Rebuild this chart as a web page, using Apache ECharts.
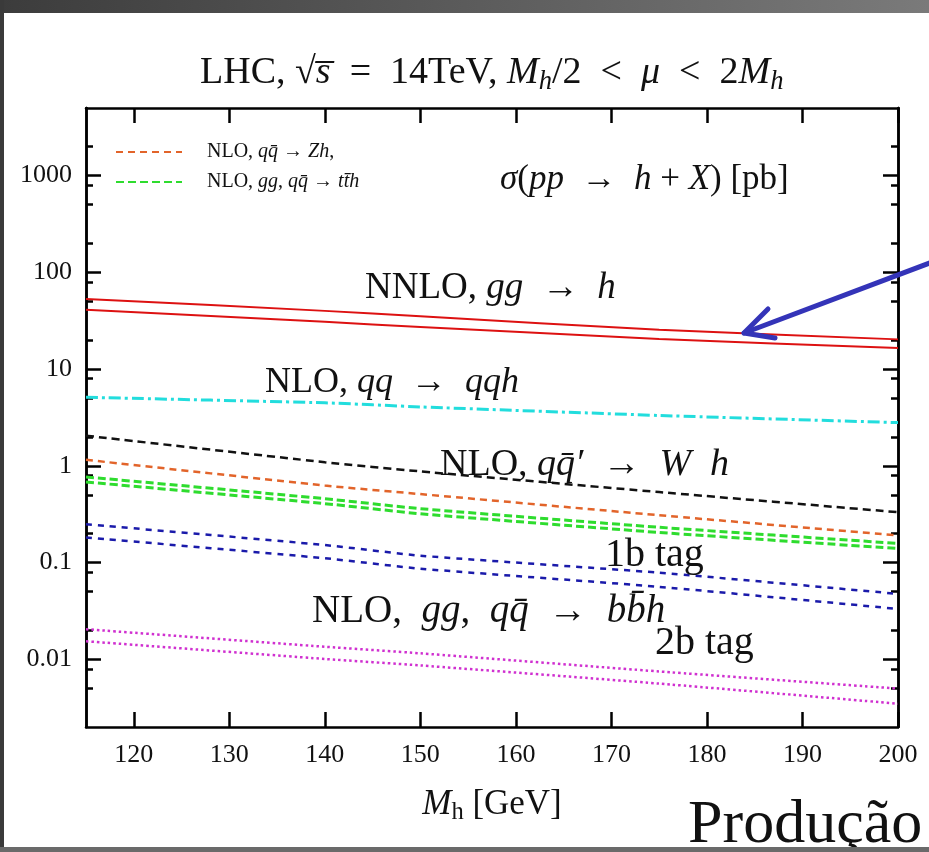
<!DOCTYPE html>
<html>
<head>
<meta charset="utf-8">
<style>
  html, body { margin: 0; padding: 0; background: #fff; }
  #main { width: 929px; height: 852px; }
</style>
<script src="https://cdn.jsdelivr.net/npm/echarts/dist/echarts.min.js"></script>
</head>
<body>
<div id="main"></div>
<script>
// Higgs production cross sections at the LHC (sigma in pb vs M_h)
let mh = [115, 140, 150, 175, 200];
let ggH_hi = [53.2, 40.0, 35.1, 25.5, 20.3];
let ggH_lo = [41.0, 30.8, 27.3, 20.5, 16.5];
let qqH = [5.11, 4.48, 4.07, 3.32, 2.80];
let wH = [2.05, 1.09, 0.877, 0.536, 0.332];
let zH = [1.155, 0.626, 0.511, 0.309, 0.191];
let ttH_hi = [0.768, 0.458, 0.361, 0.232, 0.158];
let ttH_lo = [0.681, 0.407, 0.320, 0.205, 0.140];
let bbH1_hi = [0.249, 0.152, 0.118, 0.0787, 0.0475];
let bbH1_lo = [0.182, 0.111, 0.0866, 0.0562, 0.0332];
let bbH2_hi = [0.0205, 0.0135, 0.01155, 0.0075, 0.00499];
let bbH2_lo = [0.0154, 0.0101, 0.00866, 0.00562, 0.00348];

let xTicks = [120, 130, 140, 150, 160, 170, 180, 190, 200];
let yTicks = [0.01, 0.1, 1, 10, 100, 1000];
let yMinorTicks = [0.005, 0.008, 0.02, 0.05, 0.08, 0.2, 0.5, 0.8, 2, 5, 8, 20, 50, 80, 200, 500, 800, 2000];

let nameZh = 'NLO, qq̄ → Zh,';
let nameTth = 'NLO, gg, qq̄ → tt̄h';

var serif = 'Liberation Serif';
var sp = '\u2002';
function bigRich(size) {
  return {
    r: { fontFamily: serif, fontSize: size, fontWeight: 'normal', color: '#111' },
    i: { fontFamily: serif, fontSize: size, fontWeight: 'normal', fontStyle: 'italic', color: '#111' },
    s: { fontFamily: serif, fontSize: size * 0.7, fontWeight: 'normal', fontStyle: 'italic', color: '#111', padding: [size * 0.45, 0, 0, 0] },
    u: { fontFamily: serif, fontSize: size * 0.7, fontWeight: 'normal', color: '#111', padding: [size * 0.45, 0, 0, 0] }
  };
}

function pairs(ys) {
  return mh.map(function (x, k) { return [x, ys[k]]; });
}

function line(name, ys, color, width, dash) {
  return {
    name: name,
    type: 'line',
    data: pairs(ys),
    symbol: 'none',
    smooth: 0.2,
    lineStyle: { color: color, width: width, type: dash },
    itemStyle: { color: color },
    z: 3
  };
}

function yLog(pos, ticks, len, labels) {
  return {
    type: 'log',
    position: pos,
    min: 0.002,
    max: 5000,
    axisLine: { show: true, onZero: false, lineStyle: { color: '#000', width: 2.5 } },
    axisTick: { show: true, inside: true, length: len, customValues: ticks, lineStyle: { color: '#000', width: 2.5 } },
    axisLabel: {
      show: labels,
      customValues: yTicks,
      margin: 14,
      fontFamily: serif,
      fontSize: 26,
      color: '#111',
      formatter: function (v) { return String(+(+v).toPrecision(3)); }
    },
    splitLine: { show: false },
    minorTick: { show: false }
  };
}

function xLin(pos, labels) {
  return {
    type: 'value',
    position: pos,
    min: 115,
    max: 200,
    axisLine: { show: true, onZero: false, lineStyle: { color: '#000', width: 2.5 } },
    axisTick: { show: true, inside: true, length: 15, customValues: xTicks, lineStyle: { color: '#000', width: 2.5 } },
    axisLabel: {
      show: labels,
      customValues: xTicks,
      margin: 15,
      fontFamily: serif,
      fontSize: 26,
      color: '#111'
    },
    splitLine: { show: false },
    name: labels ? '{i|M}{u|h}{r| [GeV]}' : '',
    nameLocation: 'middle',
    nameGap: 57,
    nameTextStyle: { rich: bigRich(35) }
  };
}

function note(x, y, text, size) {
  return {
    type: 'text',
    x: x,
    y: y,
    z: 50,
    style: {
      text: text,
      rich: bigRich(size),
      fill: '#111',
      align: 'left',
      verticalAlign: 'middle'
    }
  };
}

let option = {
  backgroundColor: '#fff',
  animation: false,
  title: {
    text: '{r|LHC, √}{i|s̅}{r|' + sp + '=' + sp + '14TeV, }{i|M}{s|h}{r|/2' + sp + '<' + sp + '}{i|μ}{r|' + sp + '<' + sp + '2}{i|M}{s|h}',
    left: 195,
    top: 46,
    textStyle: { fontWeight: 'normal', rich: bigRich(38) }
  },
  grid: { left: 86, right: 31, top: 108, bottom: 125, containLabel: false },
  legend: {
    data: [nameZh, nameTth],
    orient: 'vertical',
    left: 110,
    top: 137,
    itemWidth: 66,
    itemHeight: 14,
    itemGap: 10,
    itemStyle: { opacity: 0 },
    formatter: function (n) {
      if (n === nameZh) return '{r|NLO, }{i|qq̄}{r| → }{i|Zh}{r|,}';
      return '{r|NLO, }{i|gg}{r|, }{i|qq̄}{r| → }{i|tt̄h}';
    },
    textStyle: { rich: bigRich(20), padding: [0, 0, 0, 20] }
  },
  xAxis: [xLin('bottom', true), xLin('top', false)],
  yAxis: [
    yLog('left', yTicks, 15, true),
    yLog('left', yMinorTicks, 7, false),
    yLog('right', yTicks, 15, false),
    yLog('right', yMinorTicks, 7, false)
  ],
  series: [
    line('NNLO gg→h a', ggH_hi, '#dd1111', 2, 'solid'),
    line('NNLO gg→h b', ggH_lo, '#dd1111', 2, 'solid'),
    line('NLO qq→qqh', qqH, '#22dddd', 3, [12, 4, 3, 4]),
    line('NLO Wh', wH, '#111111', 2.5, [8, 5]),
    line(nameZh, zH, '#e2642a', 2.5, [7, 5]),
    line(nameTth, ttH_hi, '#2edc2e', 3, [8, 4]),
    line(nameTth, ttH_lo, '#2edc2e', 3, [8, 4]),
    line('1b tag a', bbH1_hi, '#1a1aaa', 2.5, [6, 6]),
    line('1b tag b', bbH1_lo, '#1a1aaa', 2.5, [6, 6]),
    line('2b tag a', bbH2_hi, '#d030d0', 2.5, [2.5, 3]),
    line('2b tag b', bbH2_lo, '#d030d0', 2.5, [2.5, 3])
  ],
  graphic: [
    { type: 'rect', shape: { x: 0, y: 0, width: 929, height: 13 }, style: { fill: new echarts.graphic.LinearGradient(0, 0, 1, 0, [{ offset: 0, color: '#3c3c3c' }, { offset: 1, color: '#7a7a7a' }]) }, z: 60 },
    { type: 'rect', shape: { x: 0, y: 0, width: 4, height: 852 }, style: { fill: '#3a3a3a' }, z: 60 },
    { type: 'rect', shape: { x: 0, y: 847, width: 929, height: 5 }, style: { fill: '#6a6a6a' }, z: 60 },
    note(500, 180, '{i|σ}{r|(}{i|pp}{r|' + sp + '→' + sp + '}{i|h}{r| + }{i|X}{r|) [pb]}', 35),
    note(365, 288, '{r|NNLO, }{i|gg}{r|' + sp + '→' + sp + '}{i|h}', 37),
    note(265, 383, '{r|NLO, }{i|qq}{r|' + sp + '→' + sp + '}{i|qqh}', 36),
    note(440, 465, '{r|NLO, }{i|qq̄′}{r|' + sp + '→' + sp + '}{i|W' + sp + 'h}', 38),
    note(605, 555, '{r|1b tag}', 40),
    note(312, 612, '{r|NLO,' + sp + '}{i|gg}{r|,' + sp + '}{i|qq̄}{r|' + sp + '→' + sp + '}{i|bb̄h}', 39),
    note(655, 643, '{r|2b tag}', 40),
    {
      type: 'text', x: 688, y: 826, z: 50,
      style: { text: 'Produção', font: '62px "Liberation Serif"', fill: '#111', align: 'left', verticalAlign: 'middle' }
    },
    {
      type: 'polyline', z: 55,
      shape: { points: [[935, 261], [744, 333]] },
      style: { stroke: '#3434b8', lineWidth: 5, lineCap: 'round', fill: null }
    },
    {
      type: 'polyline', z: 55,
      shape: { points: [[768, 309], [744, 333], [775, 338]] },
      style: { stroke: '#3434b8', lineWidth: 5, lineCap: 'round', lineJoin: 'round', fill: null }
    }
  ]
};

var chartDom = document.getElementById('main');
var chart = echarts.init(chartDom);
chart.setOption(option);
</script>
</body>
</html>
